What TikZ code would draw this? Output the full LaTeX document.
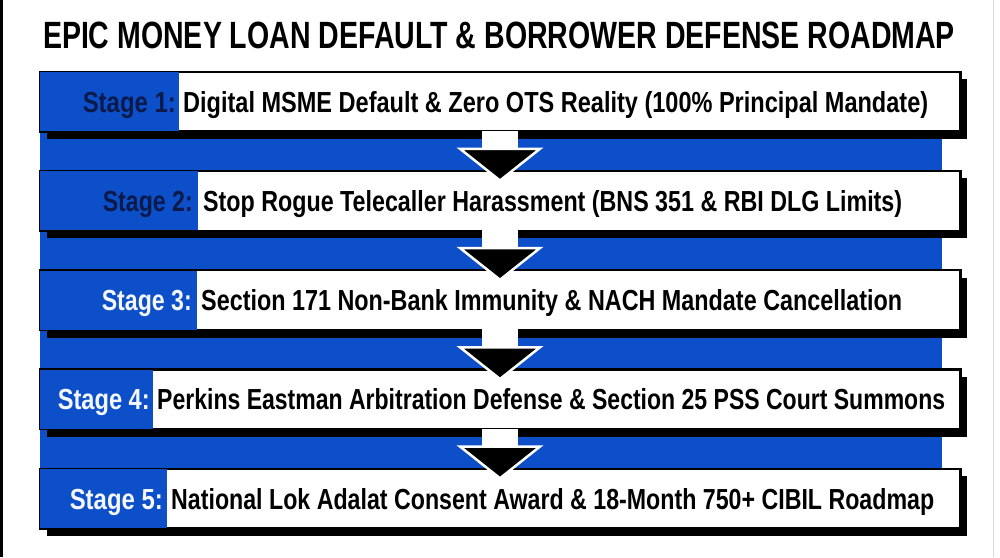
\documentclass[tikz,border=0pt]{standalone}
\usepackage{fontspec}
\setmainfont{Liberation Sans}
\usetikzlibrary{calc}
\definecolor{bandblue}{HTML}{0C4FC9}
\definecolor{navy}{HTML}{0B1A4A}
\definecolor{lightwhite}{HTML}{F4F7FF}
\tikzset{
  stagebox/.style={draw=black, line width=1.5pt, fill=white, minimum width=920pt, minimum height=59pt, inner sep=0pt},
  shadowbox/.style={fill=black},
  stagetxt/.style={inner sep=0pt, font=\fontsize{29pt}{32pt}\selectfont\bfseries},
  lbldark/.style={stagetxt, text=navy, anchor=base east},
  lbllight/.style={stagetxt, text=lightwhite, anchor=base east},
  desc/.style={stagetxt, text=black, anchor=base west},
  arrowhead/.style={fill=black, draw=white, line width=2.5pt, line join=miter},
  titletxt/.style={inner sep=0pt, anchor=base, font=\fontsize{38pt}{42pt}\selectfont\bfseries}
}
\begin{document}
\begin{tikzpicture}[x=1pt,y=-1pt]
\useasboundingbox (0,0) rectangle (1000,557);
\fill[white] (0,0) rectangle (1000,557);
\fill[black] (0,0) rectangle (3,557);
\draw[black!15, line width=1pt] (993,0) -- (993,557);

\node[titletxt] (title) at (499,48) {\resizebox{912pt}{\height}{EPIC MONEY LOAN DEFAULT \& BORROWER DEFENSE ROADMAP}};

\fill[bandblue] (40,72) rectangle (942,528);

\foreach \n/\y/\split in {1/101.5/179, 2/200.75/198, 3/300/197, 4/399.25/153, 5/498.5/167} {
  \fill[black] (47,\y-22.5) rectangle (967,\y+37.5);
  \node[stagebox] (s\n) at (500,\y) {};
  \fill[bandblue] (s\n.north west) rectangle (\split,\y+29.5);
  \draw[line width=1.5pt] (s\n.north west) rectangle (s\n.south east);
}

\foreach \a/\b in {1/2, 2/3, 3/4, 4/5} {
  \fill[white] ($(s\a.south)+(-18,-1)$) rectangle ($(s\a.south)+(18,18)$);
  \filldraw[arrowhead] ($(s\a.south)+(-40,17)$) -- ($(s\a.south)+(40,17)$) -- ($(s\b.north)+(0,10)$) -- cycle;
}

\node[lbldark]  (l1) at (176,112)    {\resizebox{93pt}{\height}{Stage 1:}};
\node[desc]     (d1) at (183,112)    {\resizebox{745pt}{\height}{Digital MSME Default \& Zero OTS Reality (100\% Principal Mandate)}};
\node[lbldark]  (l2) at (193,211.25) {\resizebox{90pt}{\height}{Stage 2:}};
\node[desc]     (d2) at (203,211.25) {\resizebox{699pt}{\height}{Stop Rogue Telecaller Harassment (BNS 351 \& RBI DLG Limits)}};
\node[lbllight] (l3) at (192,310.5)  {\resizebox{90pt}{\height}{Stage 3:}};
\node[desc]     (d3) at (201,310.5)  {\resizebox{701pt}{\height}{Section 171 Non-Bank Immunity \& NACH Mandate Cancellation}};
\node[lbllight] (l4) at (150,409.75) {\resizebox{92pt}{\height}{Stage 4:}};
\node[desc]     (d4) at (157,409.75) {\resizebox{788pt}{\height}{Perkins Eastman Arbitration Defense \& Section 25 PSS Court Summons}};
\node[lbllight] (l5) at (163,509)    {\resizebox{93pt}{\height}{Stage 5:}};
\node[desc]     (d5) at (171,509)    {\resizebox{763pt}{\height}{National Lok Adalat Consent Award \& 18-Month 750+ CIBIL Roadmap}};
\end{tikzpicture}
\end{document}
